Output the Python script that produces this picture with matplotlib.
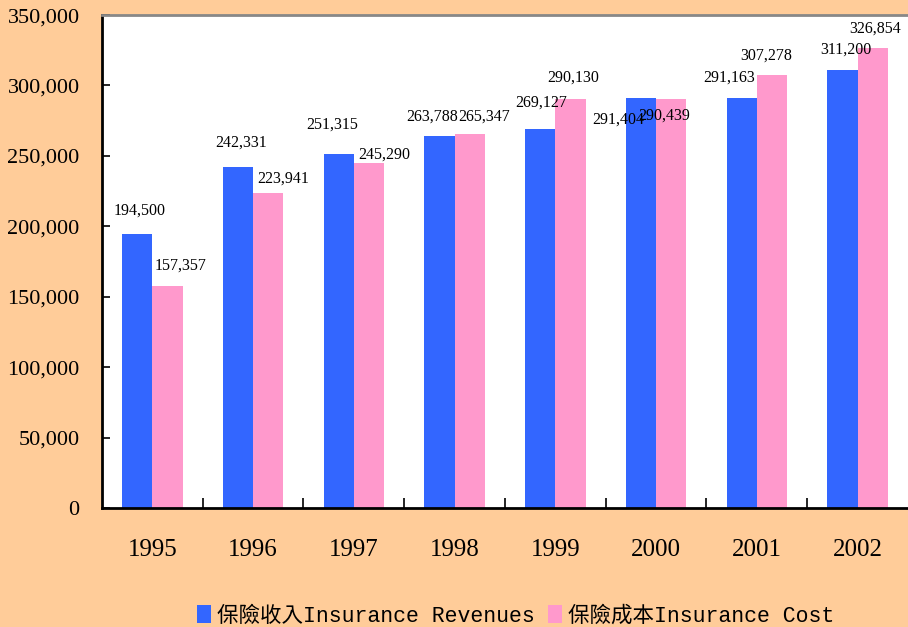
import matplotlib
matplotlib.use('Agg')
import matplotlib.pyplot as plt
import numpy as np
from matplotlib.ticker import FuncFormatter, MultipleLocator, FixedLocator

years = ['1995', '1996', '1997', '1998', '1999', '2000', '2001', '2002']
revenues = [194500, 242331, 251315, 263788, 269127, 291404, 291163, 311200]
costs = [157357, 223941, 245290, 265347, 290130, 290439, 307278, 326854]
series_names = ['保險收入Insurance Revenues', '保險成本Insurance Cost']

# label offsets (pixels) relative to bar top centre, mimicking the original placement
rev_off = [(2, 23), (3, 24), (-7, 29), (-7, 20), (1, 26), (-23, -22), (-13, 20), (3, 20)]
cost_off = [(13, 21), (15, 14), (15, 8), (14, 18), (3, 22), (-7, -17), (-6, 20), (2, 19)]

bg = '#FFCC99'
blue = '#3366FF'
pink = '#FF99CC'
serif = ['Liberation Serif', 'DejaVu Serif']

fig = plt.figure(figsize=(9.08, 6.27), dpi=100, facecolor=bg)
ax = fig.add_axes([0.1123, 0.1898, 0.8877, 0.7862])
ax.set_facecolor('white')

x = np.arange(len(years))
w = 0.3
b1 = ax.bar(x - w / 2, revenues, w, color=blue, label=series_names[0], zorder=2)
b2 = ax.bar(x + w / 2, costs, w, color=pink, label=series_names[1], zorder=2)

for bars, vals, offs in ((b1, revenues, rev_off), (b2, costs, cost_off)):
    for r, v, (dx, dy) in zip(bars, vals, offs):
        ax.annotate(f'{v:,}', (r.get_x() + r.get_width() / 2, v), xytext=(dx, dy),
                    textcoords='offset pixels', ha='center', va='center',
                    fontsize=11.5, family=serif, zorder=3)

ax.set_xlim(-0.5, len(years) - 0.5)
ax.set_ylim(0, 350000)
ax.yaxis.set_major_locator(MultipleLocator(50000))
ax.yaxis.set_major_formatter(FuncFormatter(lambda v, p: f'{int(v):,}'))
ax.tick_params(axis='y', direction='in', length=6, width=1.2, labelsize=16, pad=16)
for t in ax.get_yticklabels():
    t.set_family(serif)

ax.set_xticks(x)
ax.set_xticklabels(years, fontsize=18, family=serif)
ax.tick_params(axis='x', which='major', length=0, pad=22)
ax.xaxis.set_minor_locator(FixedLocator(x[:-1] + 0.5))
ax.tick_params(axis='x', which='minor', direction='in', length=7, width=1.2)

for s in ('left', 'bottom'):
    ax.spines[s].set_linewidth(2)
    ax.spines[s].set_color('black')
ax.spines['top'].set_color('#888888')
ax.spines['top'].set_linewidth(2)
ax.spines['right'].set_visible(False)

leg = fig.legend(loc='lower center', bbox_to_anchor=(0.568, -0.03), ncol=2, frameon=False,
                 prop={'family': ['Liberation Mono', 'Noto Sans CJK TC'], 'size': 15.5},
                 handlelength=0.65, handleheight=0.9, handletextpad=0.3, columnspacing=0.6)

fig.savefig('out.png', dpi=100, facecolor=bg)
